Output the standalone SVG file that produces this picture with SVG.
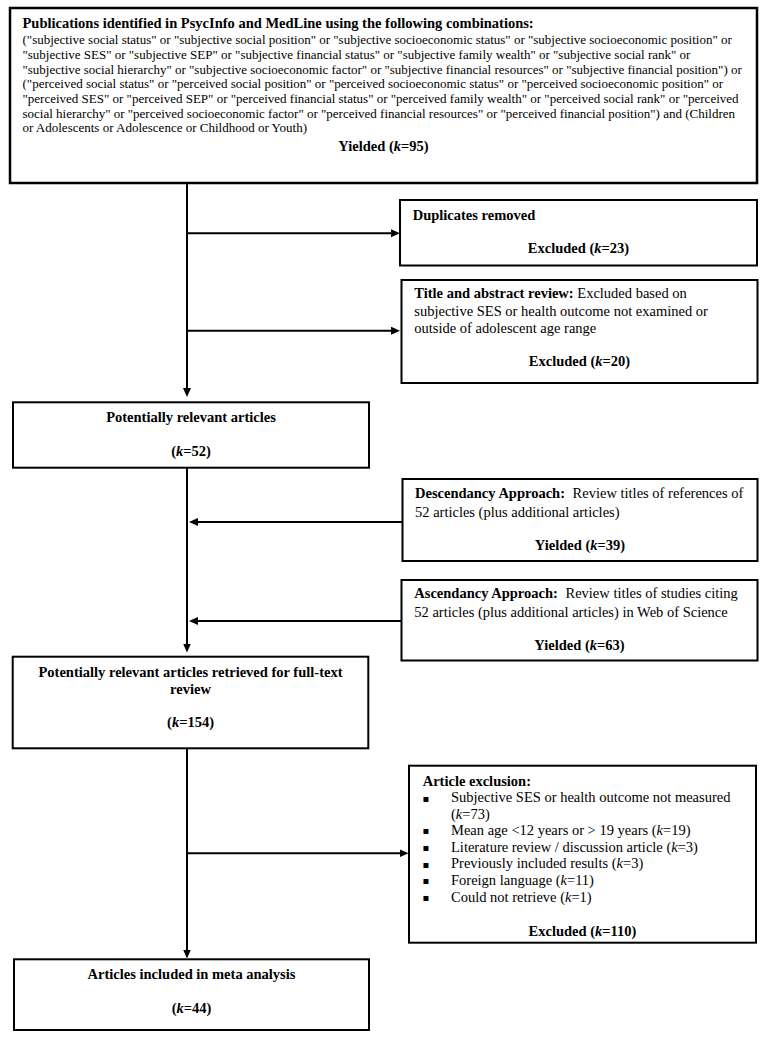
<svg xmlns="http://www.w3.org/2000/svg" width="768" height="1041" viewBox="0 0 768 1041">
<style>
.box{fill:#fff;stroke:#000;stroke-width:2}
.t{font-family:"Liberation Serif","Times New Roman",serif;font-size:14.5px;fill:#000}
.b{font-weight:bold}
.s{font-size:13px}
.c{text-anchor:middle}
.i{font-style:italic}
.bul{font-family:"DejaVu Sans",sans-serif;font-size:10px;fill:#000}
.conn{stroke:#000;stroke-width:2;fill:none;marker-end:url(#ah)}
</style>
<defs>
<marker id="ah" markerUnits="userSpaceOnUse" markerWidth="10" markerHeight="9" refX="1" refY="4" orient="auto">
<path d="M0,0 L9,4 L0,8 z" fill="#000"/>
</marker>
</defs>
<rect width="768" height="1041" fill="#fff"/>

<g id="connectors">
<path class="conn" d="M187,183 V389"/>
<path class="conn" d="M187,233.3 H392"/>
<path class="conn" d="M187,330.7 H392"/>
<path class="conn" d="M187,467.7 V644.5"/>
<path class="conn" d="M402.5,522 H197"/>
<path class="conn" d="M401.5,621 H197"/>
<path class="conn" d="M187,748.3 V950.5"/>
<path class="conn" d="M187,853.3 H400.5"/>
</g>

<g id="search">
<rect class="box" x="10" y="8" width="747" height="175" style="stroke-width:2.5"/>
<text class="t b" x="22.5" y="28.3">Publications identified in PsycInfo and MedLine using the following combinations:</text>
<text class="t s" x="22.5" y="44.2">("subjective social status" or "subjective social position" or "subjective socioeconomic status" or "subjective socioeconomic position" or</text>
<text class="t s" x="22.5" y="58.9">"subjective SES" or "subjective SEP" or "subjective financial status" or "subjective family wealth" or "subjective social rank" or</text>
<text class="t s" x="22.5" y="73.6">"subjective social hierarchy" or "subjective socioeconomic factor" or "subjective financial resources" or "subjective financial position") or</text>
<text class="t s" x="22.5" y="88.3">("perceived social status" or "perceived social position" or "perceived socioeconomic status" or "perceived socioeconomic position" or</text>
<text class="t s" x="22.5" y="103">"perceived SES" or "perceived SEP" or "perceived financial status" or "perceived family wealth" or "perceived social rank" or "perceived</text>
<text class="t s" x="22.5" y="117.7">social hierarchy" or "perceived socioeconomic factor" or "perceived financial resources" or "perceived financial position") and (Children</text>
<text class="t s" x="22.5" y="132.4">or Adolescents or Adolescence or Childhood or Youth)</text>
<text class="t b c" x="383.5" y="150.7">Yielded (<tspan class="i">k</tspan>=95)</text>
</g>

<g id="duplicates">
<rect class="box" x="400" y="200" width="357" height="65.5"/>
<text class="t b" x="412.7" y="220">Duplicates removed</text>
<text class="t b c" x="578.5" y="252.7">Excluded (<tspan class="i">k</tspan>=23)</text>
</g>

<g id="title-abstract">
<rect class="box" x="401.5" y="280" width="356" height="103"/>
<text class="t" x="414.3" y="298.3"><tspan class="b">Title and abstract review:</tspan> Excluded based on</text>
<text class="t" x="414.3" y="315.6">subjective SES or health outcome not examined or</text>
<text class="t" x="414.3" y="332.8">outside of adolescent age range</text>
<text class="t b c" x="579.5" y="366">Excluded (<tspan class="i">k</tspan>=20)</text>
</g>

<g id="relevant">
<rect class="box" x="13" y="402.3" width="356" height="65.4"/>
<text class="t b c" x="191" y="421.7">Potentially relevant articles</text>
<text class="t b c" x="191" y="455.7">(<tspan class="i">k</tspan>=52)</text>
</g>

<g id="descendancy">
<rect class="box" x="402.5" y="479" width="355" height="82"/>
<text class="t" x="415" y="498"><tspan class="b">Descendancy Approach:</tspan><tspan dx="4"> Review titles of references of</tspan></text>
<text class="t" x="415" y="516.7">52 articles (plus additional articles)</text>
<text class="t b c" x="580" y="550">Yielded (<tspan class="i">k</tspan>=39)</text>
</g>

<g id="ascendancy">
<rect class="box" x="401.5" y="580" width="356" height="80.5"/>
<text class="t" x="414.3" y="598.3"><tspan class="b">Ascendancy Approach:</tspan><tspan dx="4"> Review titles of studies citing</tspan></text>
<text class="t" x="414.3" y="616.7">52 articles (plus additional articles) in Web of Science</text>
<text class="t b c" x="579.5" y="650">Yielded (<tspan class="i">k</tspan>=63)</text>
</g>

<g id="retrieved">
<rect class="box" x="12.7" y="656.7" width="355.6" height="91.6"/>
<text class="t b c" x="190.5" y="676.7">Potentially relevant articles retrieved for full-text</text>
<text class="t b c" x="190.5" y="693.5">review</text>
<text class="t b c" x="190.5" y="726.7">(<tspan class="i">k</tspan>=154)</text>
</g>

<g id="exclusion">
<rect class="box" x="409" y="765.7" width="347" height="177"/>
<text class="t b" x="422.7" y="785.7">Article exclusion:</text>
<text class="bul" x="422.5" y="801.5">▪</text>
<text class="t" x="451" y="802.3">Subjective SES or health outcome not measured</text>
<text class="t" x="451" y="818.7">(<tspan class="i">k</tspan>=73)</text>
<text class="bul" x="422.5" y="834.2">▪</text>
<text class="t" x="451" y="835">Mean age &lt;12 years or &gt; 19 years (<tspan class="i">k</tspan>=19)</text>
<text class="bul" x="422.5" y="850.9">▪</text>
<text class="t" x="451" y="851.7">Literature review / discussion article (<tspan class="i">k</tspan>=3)</text>
<text class="bul" x="422.5" y="867.5">▪</text>
<text class="t" x="451" y="868.3">Previously included results (<tspan class="i">k</tspan>=3)</text>
<text class="bul" x="422.5" y="884.2">▪</text>
<text class="t" x="451" y="885">Foreign language (<tspan class="i">k</tspan>=11)</text>
<text class="bul" x="422.5" y="900.9">▪</text>
<text class="t" x="451" y="901.7">Could not retrieve (<tspan class="i">k</tspan>=1)</text>
<text class="t b c" x="582.5" y="935.7">Excluded (<tspan class="i">k</tspan>=110)</text>
</g>

<g id="included">
<rect class="box" x="14" y="959.3" width="355" height="70.7"/>
<text class="t b c" x="191.5" y="979.3">Articles included in meta analysis</text>
<text class="t b c" x="191.5" y="1012.7">(<tspan class="i">k</tspan>=44)</text>
</g>
</svg>
